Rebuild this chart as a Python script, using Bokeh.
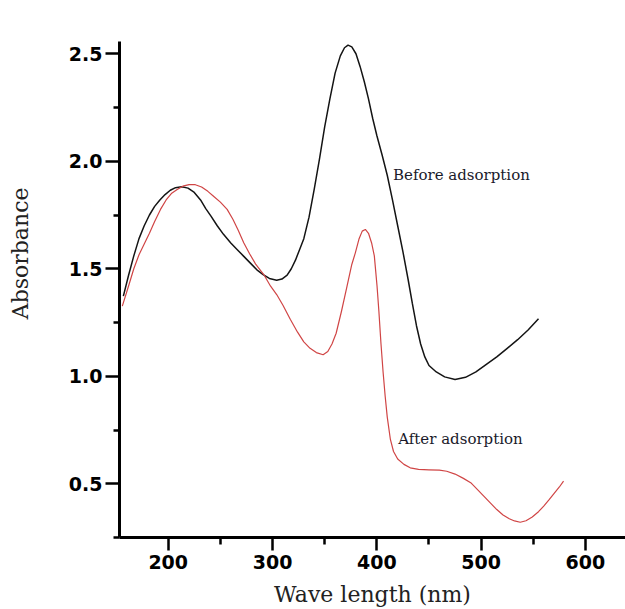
from bokeh.plotting import figure
from bokeh.models import Range1d, FixedTicker, Label, Title
from bokeh.embed import file_html
from bokeh.resources import INLINE

# Before adsorption (black)
before_wl = [157, 162, 167, 172, 177, 182, 187, 192, 197, 202, 207, 213, 219, 225, 231,
             236, 241, 247, 253, 260, 266, 272, 279, 285, 291, 297, 304, 309, 314, 318,
             322, 326, 330, 335, 340, 345, 350, 355, 360, 365, 369, 372.4, 376, 380, 384,
             388, 392, 396, 400, 405, 410, 415, 420, 425, 430, 434, 438, 442, 446,
             450, 457, 465, 475, 485, 495, 505, 515, 525, 535, 545, 555]
before_abs = [1.373, 1.47, 1.56, 1.64, 1.70, 1.75, 1.79, 1.82, 1.845, 1.865, 1.877, 1.881, 1.875, 1.855, 1.82,
              1.78, 1.745, 1.70, 1.66, 1.62, 1.59, 1.56, 1.525, 1.495, 1.473, 1.455, 1.447, 1.452, 1.47, 1.50,
              1.54, 1.59, 1.64, 1.74, 1.87, 2.01, 2.16, 2.29, 2.41, 2.49, 2.528, 2.54, 2.532, 2.50, 2.44,
              2.37, 2.29, 2.20, 2.12, 2.03, 1.935, 1.82, 1.70, 1.58, 1.45, 1.34, 1.235, 1.15, 1.09,
              1.05, 1.02, 0.997, 0.985, 0.995, 1.02, 1.055, 1.09, 1.13, 1.17, 1.215, 1.267]

# After adsorption (red)
after_wl = [156, 162, 167, 172, 177, 182, 187, 192.6, 198, 203, 208.6, 214, 220, 226, 232,
            238, 244, 250, 256.5, 262, 267, 272.4, 278, 284, 291.6, 298, 304, 310, 317, 324,
            330, 336, 342, 348.5, 353, 357, 361, 366, 371.5, 376, 379.4, 383, 386, 389, 392,
            395, 397.6, 400.2, 402, 404, 406, 408, 410, 413, 416, 420, 426, 432, 440, 450,
            460, 467, 475, 483, 490, 497, 503, 509, 515, 521, 527, 532, 537.5, 543, 549,
            555, 560, 565, 570, 575, 579]
after_abs = [1.326, 1.42, 1.50, 1.565, 1.615, 1.665, 1.72, 1.776, 1.82, 1.85, 1.869, 1.884, 1.891, 1.891, 1.88,
             1.86, 1.835, 1.81, 1.776, 1.73, 1.68, 1.621, 1.57, 1.52, 1.473, 1.42, 1.38, 1.33, 1.265, 1.205,
             1.16, 1.13, 1.11, 1.10, 1.115, 1.15, 1.20, 1.30, 1.42, 1.52, 1.574, 1.64, 1.675, 1.683, 1.665,
             1.62, 1.56, 1.42, 1.30, 1.15, 1.02, 0.907, 0.81, 0.706, 0.65, 0.615, 0.59, 0.574, 0.567, 0.565,
             0.563, 0.558, 0.545, 0.525, 0.505, 0.47, 0.44, 0.41, 0.38, 0.355, 0.337, 0.327, 0.321, 0.328, 0.345,
             0.37, 0.396, 0.425, 0.455, 0.485, 0.512]

x_major = [200, 300, 400, 500, 600]
x_minor = [250, 350, 450, 550]
y_major = [0.5, 1.0, 1.5, 2.0, 2.5]
y_minor = [0.25, 0.75, 1.25, 1.75, 2.25]

p = figure(width=625, height=609, output_backend="svg", toolbar_location=None,
           x_range=Range1d(153.3, 638.4), y_range=Range1d(0.25, 2.557),
           min_border_left=119, min_border_right=0, min_border_top=41, min_border_bottom=72)
p.outline_line_color = None
p.xgrid.visible = False
p.ygrid.visible = False
p.background_fill_color = "white"
p.border_fill_color = "white"

p.line(before_wl, before_abs, line_color="#141414", line_width=1.5)
p.line(after_wl, after_abs, line_color="#d04545", line_width=1.2)

for ax in (p.xaxis[0], p.yaxis[0]):
    ax.axis_line_width = 3
    ax.axis_line_color = "black"
    ax.major_tick_line_width = 2.5
    ax.minor_tick_line_width = 2.5
    ax.major_tick_line_color = "black"
    ax.minor_tick_line_color = "black"
    ax.major_tick_in = 0
    ax.minor_tick_in = 0
    ax.major_label_text_font = "DejaVu Sans"
    ax.major_label_text_font_style = "bold"
    ax.major_label_text_font_size = "19px"
    ax.major_label_text_color = "black"

p.xaxis.ticker = FixedTicker(ticks=x_major, minor_ticks=x_minor)
p.yaxis.ticker = FixedTicker(ticks=y_major, minor_ticks=y_minor)
p.xaxis.major_label_overrides = {v: str(v) for v in x_major}
p.yaxis.major_label_overrides = {v: f"{v:.1f}" for v in y_major}
p.xaxis.major_tick_out = 13
p.xaxis.minor_tick_out = 7
p.yaxis.major_tick_out = 14
p.yaxis.minor_tick_out = 6
p.xaxis.major_label_standoff = 4
p.yaxis.major_label_standoff = 3

p.xaxis.axis_label = "Wave length (nm)"
p.xaxis.axis_label_text_font = "DejaVu Serif"
p.xaxis.axis_label_text_font_style = "normal"
p.xaxis.axis_label_text_font_size = "22px"
p.xaxis.axis_label_text_color = "#222222"
p.xaxis.axis_label_standoff = 10

# invisible spacer label on the y axis pushes the title outward
p.yaxis.axis_label = " "
p.yaxis.axis_label_text_font_size = "10px"
p.yaxis.axis_label_standoff = 14

p.add_layout(Title(text="Absorbance", align="right", offset=146,
                   text_font="DejaVu Serif", text_font_style="normal",
                   text_font_size="22px", text_color="#222222"), "left")

p.add_layout(Label(x=415.5, y=1.934, text="Before adsorption", text_align="left",
                   text_baseline="middle", text_font="DejaVu Serif", text_font_size="15px",
                   text_color="#1a1a2a"))
p.add_layout(Label(x=420.5, y=0.706, text="After adsorption", text_align="left",
                   text_baseline="middle", text_font="DejaVu Serif", text_font_size="15px",
                   text_color="#1a1a2a"))

open("out.html", "w").write(file_html(p, INLINE))
